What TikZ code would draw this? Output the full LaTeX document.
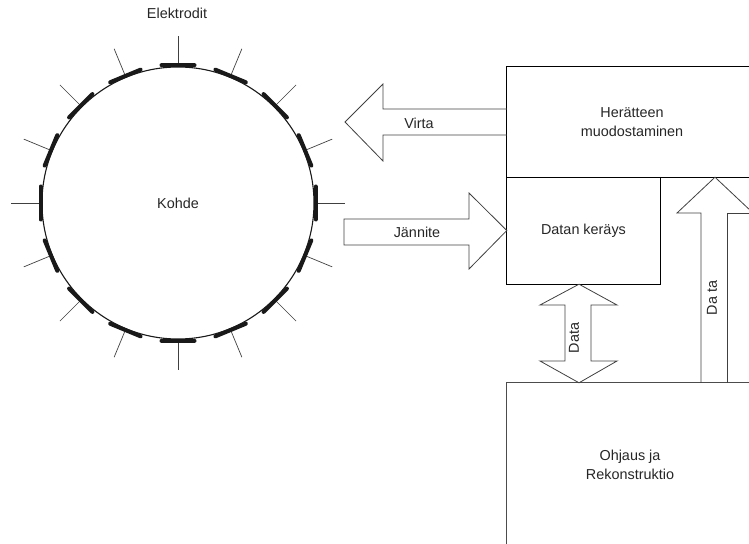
\documentclass[tikz,border=0pt]{standalone}
\usepackage{fontspec}
\setmainfont{Liberation Sans}
\usetikzlibrary{calc}
\begin{document}
\begin{tikzpicture}[x=1bp,y=-1bp,
  every node/.style={font=\fontsize{14.4bp}{19bp}\selectfont, text=black!85},
  boxnode/.style={inner sep=0pt, align=center},
  bigline/.style={draw=black, line width=1.2bp},
  thinline/.style={draw=black!70, line width=0.8bp},
  blockarrow/.style={draw=black!75, line width=0.8bp, line join=miter},
  electrode/.style={line width=4bp, line cap=round, black!90},
  lead/.style={line width=0.7bp, black!75}]
\useasboundingbox (0,0) rectangle (749,544);
% object
\node[circle, draw=black!90, line width=1.1bp, minimum size=272bp, inner sep=0pt] (kohde) at (178,203) {Kohde};
\coordinate (c) at (178,203);
\foreach \a in {0,22.5,...,337.5}{
  \draw[lead] ($(c)+(\a:137)$) -- ($(c)+(\a:167)$);
  \draw[electrode] ($(c)+(\a:137.5)+(\a+90:16.5)$) -- ($(c)+(\a:137.5)+(\a-90:16.5)$);
}
\node (elek) at (177,13) {Elektrodit};
% boxes (right side runs off the picture)
\coordinate (edge) at (749,0);
\node[boxnode, minimum width=250bp, minimum height=110bp] (her) at (632,122) {Herätteen\\muodostaminen};
\draw[bigline] (her.north -| edge) -- (her.north west) -- (her.south west) -- (her.south -| edge);
\node[boxnode, minimum width=153bp, minimum height=107bp] (dk) at (583.5,230.5) {Datan keräys};
\draw[bigline] (dk.north east) -- (dk.south east) -- (dk.south west) -- (dk.north west);
\node[boxnode, minimum width=246bp, minimum height=163bp] (ohj) at (630,464.5) {Ohjaus ja\\Rekonstruktio};
\draw[thinline] (ohj.north -| edge) -- (ohj.north west) -- (ohj.west |- 0,544);
% Virta arrow
\draw[blockarrow] (her.west |- 0,109) -- (383,109) -- (383,84) -- (345,122) -- (383,161) -- (383,135) -- (her.west |- 0,135);
\node (virta) at (419,123) {Virta};
% Jannite arrow
\draw[blockarrow] (344,219) -- (469,219) -- (469,193) -- (dk.west) -- (469,269) -- (469,245) -- (344,245) -- cycle;
\node (jan) at (417,232) {Jännite};
% Data double arrow
\draw[blockarrow] (dk.south -| 579,0) -- (617,305) -- (591,305) -- (591,361) -- (617,361) -- (ohj.north -| 579,0) -- (540,361) -- (565,361) -- (565,305) -- (540,305) -- cycle;
\node[rotate=90] (data1) at (574,338) {Data};
% Data up arrow (head runs off the picture)
\draw[blockarrow] (ohj.north -| 701,0) -- (701,213) -- (677,213) -- (her.south -| 715,0) -- (749,209.2);
\draw[blockarrow] (749,213) -- (727,213) -- (ohj.north -| 727,0);
\node[rotate=90] (data2) at (712,298) {Da ta};
\end{tikzpicture}
\end{document}
